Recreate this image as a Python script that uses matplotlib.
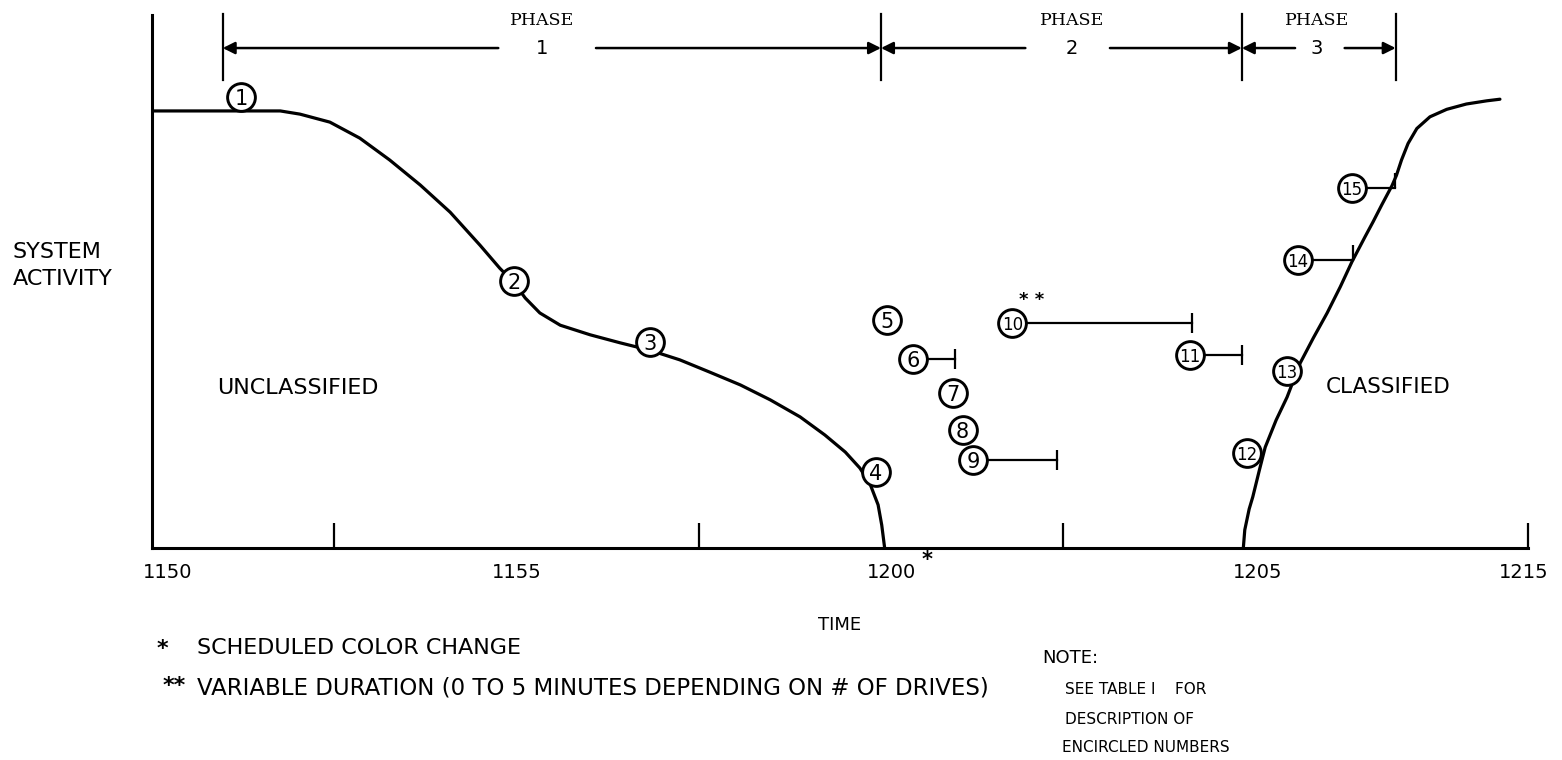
import matplotlib

matplotlib.use("Agg")
import matplotlib.pyplot as plt

W, H = 1562, 760

# time axis: minutes after 11:50 (schematic, the last tick is labelled 1215)
label_pos = [0.21, 5.0, 10.14, 15.16, 18.81]
tick_labels = ["1150", "1155", "1200", "1205", "1215"]
tick_marks = [2.5, 5, 7.5, 12.5, 18.875]

# unclassified system activity running down to the color change
down_t = [0, 1.76, 2.03, 2.44, 2.85, 3.26, 3.68, 4.09, 4.50, 4.77, 4.97, 5.12,
          5.32, 5.60, 6.01, 6.42, 6.83, 7.24, 7.65, 8.07, 8.48, 8.89, 9.23,
          9.51, 9.71, 9.85, 9.96, 10.01, 10.05]
down_y = [82.0, 82.0, 81.4, 79.9, 76.9, 72.8, 68.1, 63.0, 56.8, 52.5, 49.7, 46.9,
          44.1, 41.8, 40.0, 38.5, 37.1, 35.3, 33.0, 30.6, 27.8, 24.6, 21.2,
          18.0, 15.0, 12.0, 8.1, 4.3, 0]

# classified system activity building back up
up_t = [14.97, 14.99, 15.05, 15.10, 15.19, 15.27, 15.42, 15.57, 15.75, 15.93,
        16.12, 16.30, 16.46, 16.64, 16.75, 16.87, 16.94, 17.01, 17.07, 17.14,
        17.23, 17.35, 17.53, 17.76, 18.03, 18.31, 18.49]
up_y = [0, 3.4, 7.3, 9.6, 14.6, 18.9, 24.0, 28.3, 34.7, 39.4, 44.1, 49.0, 53.7,
        58.4, 61.2, 64.4, 66.2, 68.0, 69.9, 72.8, 75.9, 78.7, 80.9, 82.3, 83.3,
        83.9, 84.2]

# encircled step numbers
step_ids = [1, 2, 3, 4, 5, 6, 7, 8, 9, 10, 11, 12, 13, 14, 15]
step_t = [1.22, 4.97, 6.83, 9.93, 10.08, 10.44, 10.99, 11.12, 11.26, 11.80,
          14.24, 15.02, 15.57, 15.72, 16.46]
step_y = [84.6, 50.1, 38.6, 14.3, 42.8, 35.5, 29.1, 22.1, 16.5, 42.2, 36.2,
          17.8, 33.2, 54.0, 67.5]

# steps with a duration bar, and where the bar ends
bar_ids = [6, 9, 10, 11, 14, 15]
bar_end = [11.01, 12.41, 14.27, 14.95, 16.47, 17.05]

phase_edges = [0.97, 10.0, 14.95, 17.06]
phase_mid = [5.35, 12.62, 15.98]
phase_names = ["1", "2", "3"]

SANS = "DejaVu Sans"
SERIF = "DejaVu Serif"

fig = plt.figure(figsize=(W / 100, H / 100), dpi=100)
ax = fig.add_axes([152 / W, 1 - 548 / H, 1376 / W, 533 / H])
ax.set_xlim(0, 18.875)
ax.set_ylim(0, 100)

for side in ("top", "right"):
    ax.spines[side].set_visible(False)
for side in ("left", "bottom"):
    ax.spines[side].set_linewidth(2.2)

ax.set_yticks([])
ax.set_xticks(label_pos, tick_labels, fontsize=14, fontfamily=SANS)
ax.set_xticks(tick_marks, minor=True)
ax.tick_params(axis="x", which="major", length=0, pad=11)
ax.tick_params(axis="x", which="minor", direction="in", length=18, width=1.6)

ax.plot(down_t, down_y, color="black", lw=2.3, solid_capstyle="round", zorder=2)
ax.plot(up_t, up_y, color="black", lw=2.3, solid_capstyle="round", zorder=2)

# duration bars
for sid, end in zip(bar_ids, bar_end):
    i = step_ids.index(sid)
    t0, y0 = step_t[i], step_y[i]
    ax.plot([t0, end], [y0, y0], color="black", lw=1.6, zorder=3)
    if sid >= 14:
        ax.plot([end], [y0], marker=2, ms=11, mew=1.6, color="black", zorder=3)
    else:
        ax.plot([end], [y0], marker="|", ms=15, mew=1.6, color="black", zorder=3)

ax.plot(step_t, step_y, "o", ms=20, mfc="white", mec="black", mew=2.1, zorder=4)
for sid, t, y in zip(step_ids, step_t, step_y):
    ax.text(t, y, str(sid), ha="center", va="center_baseline",
            fontsize=15 if sid < 10 else 12, fontfamily=SANS, zorder=5)

ax.text(12.07, 46.6, "* *", ha="center", va="center", fontsize=13,
        fontweight="bold", fontfamily=SANS)

# phase dimension lines
arrow_y = 93.8
gaps = [(0.60, 0.74), (0.64, 0.52), (0.30, 0.38)]
for x in phase_edges:
    ax.plot([x, x], [87.8, 100.2], color="black", lw=1.6, clip_on=False)
for k, name in enumerate(phase_names):
    a, b = phase_edges[k], phase_edges[k + 1]
    mid = phase_mid[k]
    for start, end in ((mid - gaps[k][0], a), (mid + gaps[k][1], b)):
        ax.annotate("", xy=(end, arrow_y), xytext=(start, arrow_y),
                    annotation_clip=False,
                    arrowprops=dict(arrowstyle="-|>", lw=1.8, color="black",
                                    mutation_scale=18, shrinkA=0, shrinkB=0))
    ax.text(mid, 99.0, "PHASE", ha="center", va="center", fontsize=12.5,
            fontfamily=SERIF)
    ax.text(mid, arrow_y, name, ha="center", va="center", fontsize=14,
            fontfamily=SANS)

ax.text(0.89, 30.0, "UNCLASSIFIED", ha="left", va="center", fontsize=16,
        fontfamily=SANS)
ax.text(16.10, 30.2, "CLASSIFIED", ha="left", va="center", fontsize=15.5,
        fontfamily=SANS)


def ftext(px, py, s, **kw):
    kw.setdefault("fontfamily", SANS)
    kw.setdefault("va", "center")
    fig.text(px / W, 1 - py / H, s, **kw)


ftext(13, 252, "SYSTEM", fontsize=16)
ftext(13, 279, "ACTIVITY", fontsize=16)
ftext(927, 560, "*", fontsize=15, ha="center", fontweight="bold")
ftext(840, 625, "TIME", fontsize=13, ha="center")
ftext(162, 649, "*", fontsize=16, ha="center", fontweight="bold")
ftext(197, 648, "SCHEDULED COLOR CHANGE", fontsize=16)
ftext(174, 686, "**", fontsize=16, ha="center", fontweight="bold")
ftext(197, 688, "VARIABLE DURATION (0 TO 5 MINUTES DEPENDING ON # OF DRIVES)",
      fontsize=16.5)
ftext(1042, 658, "NOTE:", fontsize=13)
ftext(1065, 690, "SEE TABLE I    FOR", fontsize=11)
ftext(1065, 720, "DESCRIPTION OF", fontsize=11)
ftext(1062, 747, "ENCIRCLED NUMBERS", fontsize=11)

fig.savefig("out.png", dpi=100, facecolor="white")
